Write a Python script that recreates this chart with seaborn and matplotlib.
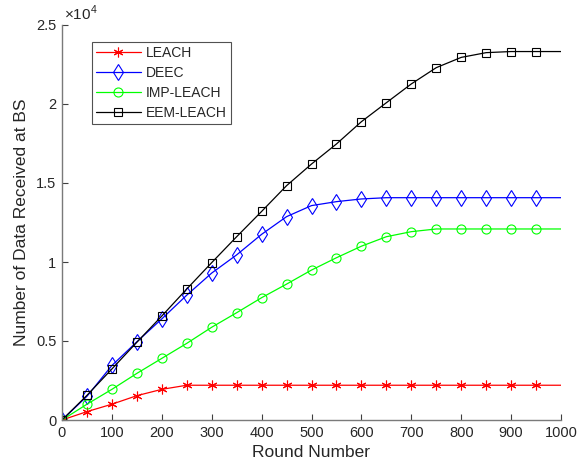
import numpy as np
import pandas as pd
import matplotlib
matplotlib.use("Agg")
import matplotlib.pyplot as plt
import matplotlib.ticker as mticker
import seaborn as sns

rounds = [0, 50, 100, 150, 200, 250, 300, 350, 400, 450, 500,
          550, 600, 650, 700, 750, 800, 850, 900, 950, 1000]
leach = [0, 530, 1000, 1540, 1940, 2200, 2200, 2200, 2200, 2200, 2200,
         2200, 2200, 2200, 2200, 2200, 2200, 2200, 2200, 2200, 2200]
deec = [0, 1500, 3450, 4950, 6400, 7900, 9300, 10450, 11750, 12870, 13570,
        13820, 13990, 14070, 14070, 14070, 14070, 14070, 14070, 14070, 14070]
imp_leach = [0, 1000, 1940, 2950, 3900, 4850, 5870, 6790, 7740, 8600, 9490,
             10270, 11000, 11600, 11920, 12090, 12090, 12090, 12090, 12090, 12090]
eem_leach = [0, 1560, 3230, 4920, 6580, 8290, 9960, 11600, 13200, 14830, 16200,
             17470, 18880, 20080, 21270, 22300, 22950, 23250, 23320, 23320, 23320]

series = ["LEACH", "DEEC", "IMP-LEACH", "EEM-LEACH"]
values = [leach, deec, imp_leach, eem_leach]

sns.set_theme(style="white")
plt.rcParams['font.family'] = ['Liberation Sans', 'DejaVu Sans']
plt.rcParams['mathtext.fontset'] = 'custom'
plt.rcParams['mathtext.rm'] = 'Liberation Sans'

fig = plt.figure(figsize=(5.79, 4.71), dpi=100)
ax = fig.add_axes([62/579, 1-420/471, (561-62)/579, (420-25)/471])

styles = {
    "LEACH": dict(color=(1, 0, 0), marker=(6, 2, 0), ms=7, mew=0.8),
    "DEEC": dict(color=(0, 0, 1), marker='d', ms=8, mew=0.8),
    "IMP-LEACH": dict(color=(0, 1, 0), marker='o', ms=6.5, mew=0.8),
    "EEM-LEACH": dict(color=(0, 0, 0), marker='s', ms=5.5, mew=0.8),
}

for name, vals in zip(series, values):
    df = pd.DataFrame({"Round": rounds, "Data": vals})
    st = styles[name]
    sns.lineplot(data=df, x="Round", y="Data", ax=ax, color=st["color"],
                 marker=st["marker"], markersize=st["ms"], markeredgewidth=st["mew"],
                 markerfacecolor='none', markeredgecolor=st["color"],
                 markevery=list(range(len(rounds) - 1)),
                 linewidth=0.9, label=name)

ax.set_xlim(0, 1000)
ax.set_ylim(0, 25000)
ax.set_xticks(np.arange(0, 1001, 100))
ax.set_yticks(np.arange(0, 25001, 5000))
ax.yaxis.set_major_formatter(mticker.FuncFormatter(lambda v, p: f"{v/1e4:g}"))

axcol = '#262626'
for s in ['top', 'right']:
    ax.spines[s].set_visible(False)
for s in ['left', 'bottom']:
    ax.spines[s].set_color('#7a7a7a')
    ax.spines[s].set_linewidth(1.0)
ax.tick_params(axis='both', direction='in', length=4, width=0.8, color='#404040',
               labelsize=10.5, labelcolor=axcol, left=True, bottom=True, pad=4)

ax.text(0.004, 1.005, r"$\times 10^{4}$", transform=ax.transAxes, fontsize=11,
        color=axcol, ha='left', va='bottom')

ax.set_xlabel("Round Number", fontsize=12.5, color=axcol, labelpad=4)
ax.set_ylabel("Number of Data Received at BS", fontsize=12.5, color=axcol, labelpad=5)

leg = ax.legend(loc='upper left', bbox_to_anchor=(30/499, 1 - 17/395), fontsize=10,
                frameon=True, fancybox=False, edgecolor='#262626', handlelength=3.2,
                handletextpad=0.4, borderpad=0.3, labelspacing=0.42, borderaxespad=0)
leg.get_frame().set_linewidth(0.8)

fig.savefig("out.png", dpi=100)
